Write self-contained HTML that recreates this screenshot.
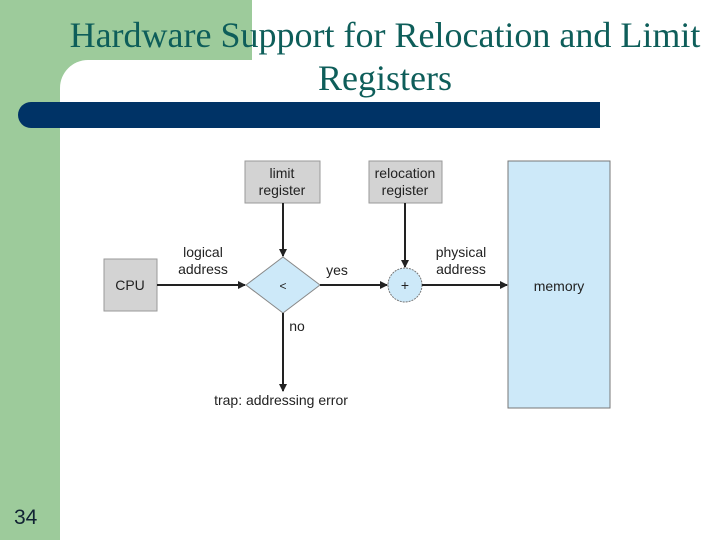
<!DOCTYPE html>
<html><head><style>
body{margin:0;width:720px;height:540px;overflow:hidden;background:#fff;position:relative;font-family:"Liberation Sans",sans-serif}
.g{position:absolute;background:#9dcb9b}
</style></head><body>
<div class="g" style="left:0;top:0;width:60px;height:540px"></div>
<div class="g" style="left:0;top:0;width:252px;height:60px"></div>
<div class="g" style="left:60px;top:60px;width:30px;height:30px"></div>
<div style="position:absolute;left:60px;top:60px;width:40px;height:40px;background:#fff;border-top-left-radius:28px"></div>
<div style="position:absolute;left:18px;top:102px;width:582px;height:26px;background:#003366;border-radius:13px 0 0 13px"></div>
<div style="position:absolute;left:40px;top:14px;width:690px;text-align:center;font-family:'Liberation Serif',serif;font-size:36px;line-height:43px;color:#0e5e5a;white-space:nowrap">Hardware Support for Relocation and Limit<br>Registers</div>
<div style="position:absolute;left:14px;top:506px;font-size:21px;color:#123">34</div>
<svg width="720" height="540" style="position:absolute;left:0;top:0" font-family="Liberation Sans,sans-serif" font-size="14" fill="#222">
<defs><marker id="a" markerWidth="8" markerHeight="8" refX="7" refY="4" orient="auto" markerUnits="userSpaceOnUse"><path d="M0,0L8,4L0,8z" fill="#222"/></marker></defs>
<rect x="245" y="161" width="75" height="42" fill="#d3d3d3" stroke="#999"/>
<rect x="369" y="161" width="73" height="42" fill="#d3d3d3" stroke="#999"/>
<rect x="104" y="259" width="53" height="52" fill="#d3d3d3" stroke="#999"/>
<rect x="508" y="161" width="102" height="247" fill="#cde9f9" stroke="#777"/>
<polygon points="246,285 283,257 320,285 283,313" fill="#cde9f9" stroke="#888"/>
<circle cx="405" cy="285" r="17" fill="#cde9f9" stroke="#777" stroke-dasharray="2,1"/>
<g stroke="#222" stroke-width="2" fill="none">
<line x1="157" y1="285" x2="245" y2="285" marker-end="url(#a)"/>
<line x1="283" y1="203" x2="283" y2="256" marker-end="url(#a)"/>
<line x1="405" y1="203" x2="405" y2="267" marker-end="url(#a)"/>
<line x1="320" y1="285" x2="387" y2="285" marker-end="url(#a)"/>
<line x1="422" y1="285" x2="507" y2="285" marker-end="url(#a)"/>
<line x1="283" y1="313" x2="283" y2="391" marker-end="url(#a)"/>
</g>
<text x="282" y="178" text-anchor="middle">limit</text>
<text x="282" y="195" text-anchor="middle">register</text>
<text x="405" y="178" text-anchor="middle">relocation</text>
<text x="405" y="195" text-anchor="middle">register</text>
<text x="130" y="290" text-anchor="middle">CPU</text>
<text x="203" y="257" text-anchor="middle">logical</text>
<text x="203" y="274" text-anchor="middle">address</text>
<text x="337" y="275" text-anchor="middle">yes</text>
<text x="461" y="257" text-anchor="middle">physical</text>
<text x="461" y="274" text-anchor="middle">address</text>
<text x="559" y="291" text-anchor="middle">memory</text>
<text x="283" y="290" text-anchor="middle" font-size="12">&lt;</text>
<text x="405" y="290" text-anchor="middle">+</text>
<text x="297" y="331" text-anchor="middle">no</text>
<text x="281" y="405" text-anchor="middle">trap: addressing error</text>
</svg>
</body></html>
